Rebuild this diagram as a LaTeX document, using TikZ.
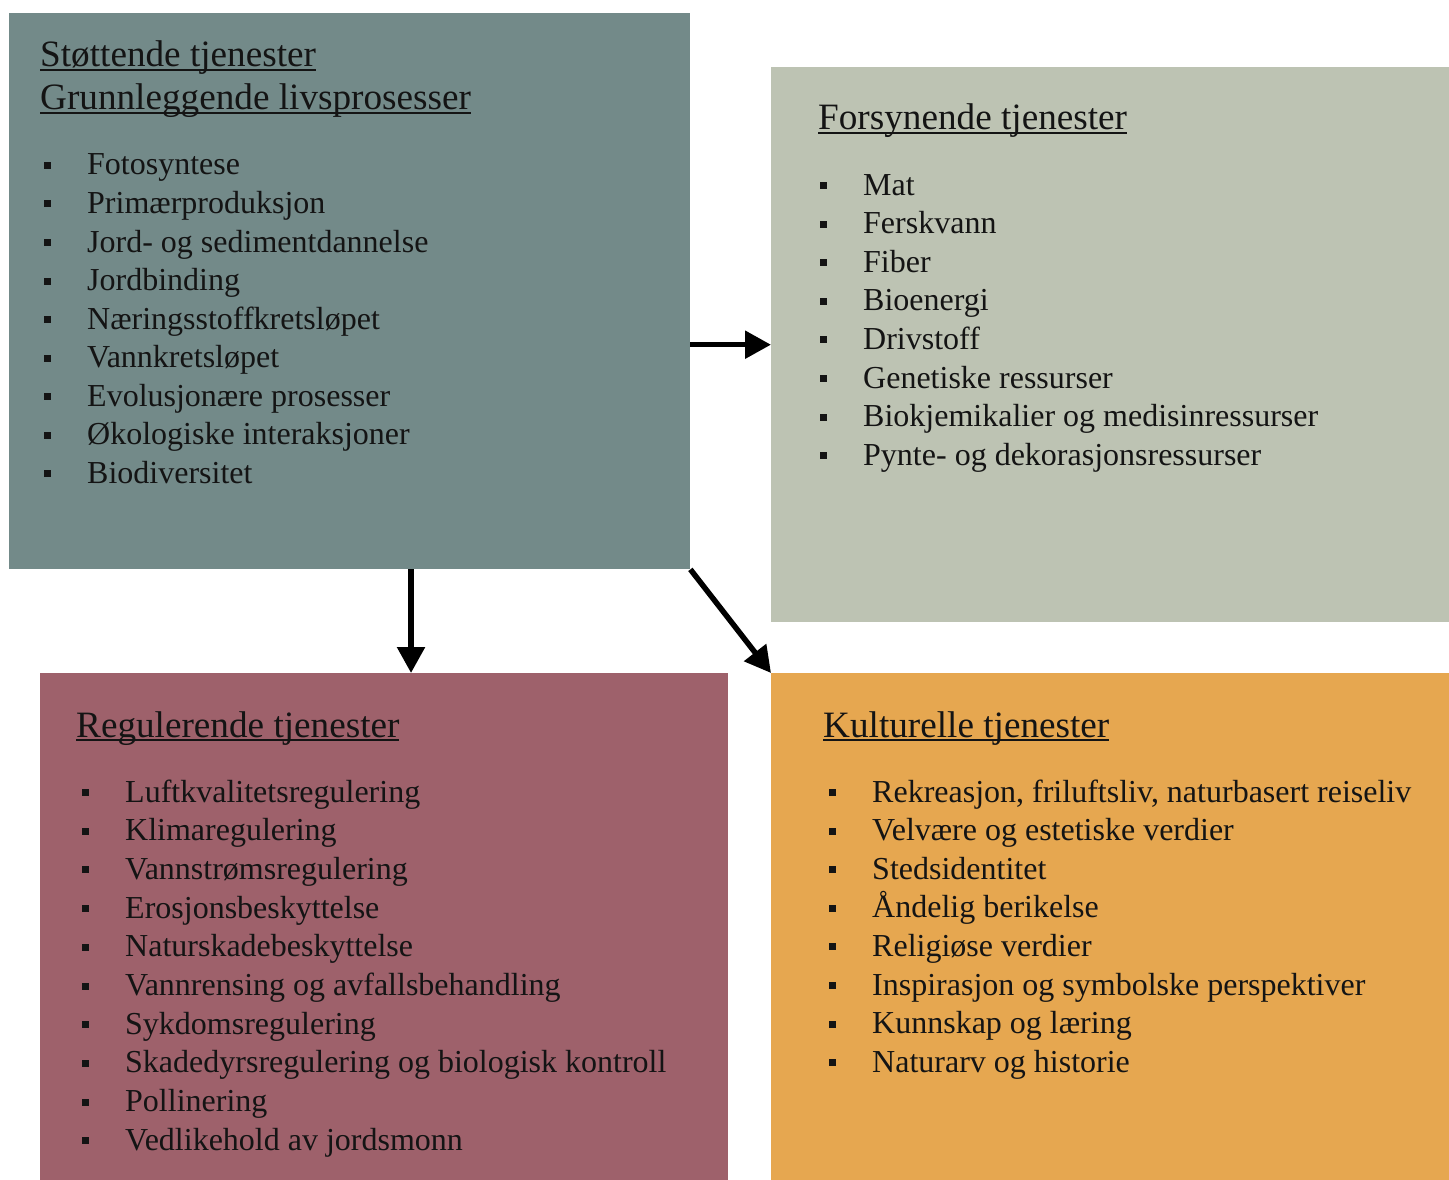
\documentclass[tikz,border=0pt]{standalone}
\usepackage{fontspec}
\setmainfont{Liberation Serif}
\usetikzlibrary{arrows.meta,calc}
\definecolor{cS}{HTML}{738A89}
\definecolor{cP}{HTML}{BDC3B3}
\definecolor{cR}{HTML}{9E616B}
\definecolor{cK}{HTML}{E6A750}
\definecolor{txt}{HTML}{141414}
\newcommand\myul[1]{\leavevmode\setbox0=\hbox{#1}\rlap{\rule[-4pt]{\wd0}{1.8pt}}\box0}
\newcommand\itm[1]{\rule[6pt]{7pt}{7pt}\hspace{36pt}#1}
\begin{document}
\begin{tikzpicture}[x=1pt,y=-1pt,
  box/.style={draw=none,inner sep=0,anchor=north west,minimum width=#1},
  ttl/.style={anchor=base west,inner sep=0,text=txt,font=\fontsize{37.2}{40}\selectfont},
  item/.style={anchor=base west,inner sep=0,text=txt,font=\fontsize{32}{36}\selectfont},
  arr/.style={line width=5.5pt,draw=black,-{Triangle[length=26pt,width=27pt]}}]
\useasboundingbox (0,0) rectangle (1449,1180);
% boxes
\node[box=681,minimum height=556,fill=cS] (s) at (9,13) {};
\node[box=678,minimum height=555,fill=cP] (p) at (771,67) {};
\node[box=688,minimum height=507,fill=cR] (r) at (40,673) {};
\node[box=678,minimum height=507,fill=cK] (k) at (771,673) {};
% titles
\node[ttl] (s-t1) at (40,67) {\myul{Støttende tjenester}};
\node[ttl] (s-t2) at (40,110) {\myul{Grunnleggende livsprosesser}};
\node[ttl] (p-t) at (818,130) {\myul{Forsynende tjenester}};
\node[ttl] (r-t) at (76,737) {\myul{Regulerende tjenester}};
\node[ttl] (k-t) at (823,737) {\myul{Kulturelle tjenester}};
% items
\foreach \t [count=\i] in {Fotosyntese,Primærproduksjon,Jord- og sedimentdannelse,Jordbinding,Næringsstoffkretsløpet,Vannkretsløpet,Evolusjonære prosesser,Økologiske interaksjoner,Biodiversitet}
  \node[item] (s\i) at (44,{136.5+38.5*\i}) {\itm{\t}};
\foreach \t [count=\i] in {Mat,Ferskvann,Fiber,Bioenergi,Drivstoff,Genetiske ressurser,Biokjemikalier og medisinressurser,Pynte- og dekorasjonsressurser}
  \node[item] (p\i) at (820,{156.4+38.6*\i}) {\itm{\t}};
\foreach \t [count=\i] in {Luftkvalitetsregulering,Klimaregulering,Vannstrømsregulering,Erosjonsbeskyttelse,Naturskadebeskyttelse,Vannrensing og avfallsbehandling,Sykdomsregulering,Skadedyrsregulering og biologisk kontroll,Pollinering,Vedlikehold av jordsmonn}
  \node[item] (r\i) at (82,{763.3+38.7*\i}) {\itm{\t}};
\foreach \t [count=\i] in {{Rekreasjon, friluftsliv, naturbasert reiseliv},Velvære og estetiske verdier,Stedsidentitet,Åndelig berikelse,Religiøse verdier,Inspirasjon og symbolske perspektiver,Kunnskap og læring,Naturarv og historie}
  \node[item] (k\i) at (829,{763.4+38.6*\i}) {\itm{\t}};
% arrows
\draw[arr] (s.east |- p.west) -- (p.west);
\coordinate (sv) at ($(s.south west)!0.59!(s.south east)$);
\draw[arr] (sv) -- (sv |- r.north);
\draw[arr] (s.south east) -- (k.north west);
\end{tikzpicture}
\end{document}
